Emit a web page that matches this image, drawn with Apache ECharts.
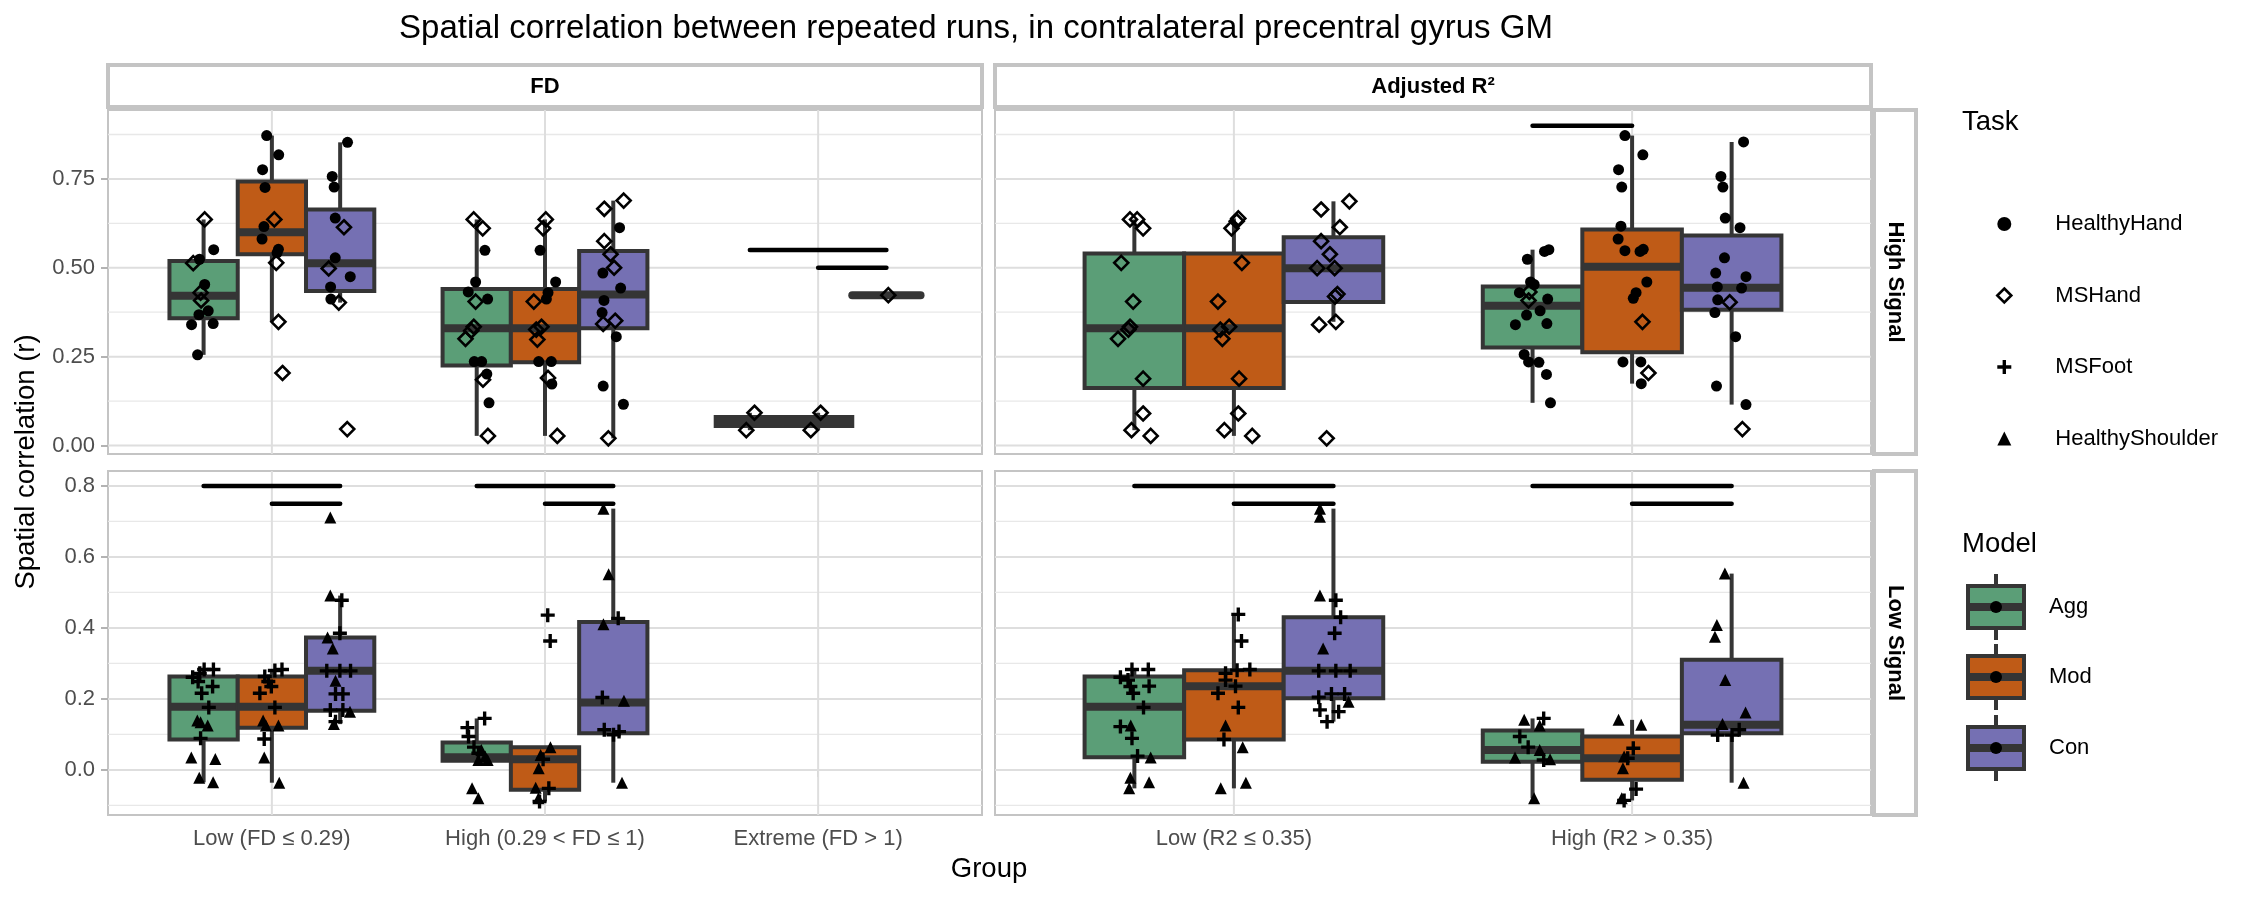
<!DOCTYPE html>
<html><head><meta charset="utf-8">
<script src="https://cdn.jsdelivr.net/npm/echarts@6/dist/echarts.min.js"></script>
<style>html,body{margin:0;padding:0;background:#fff}#c{width:2250px;height:900px}</style>
</head><body><div id="c"></div>
<script>
// ---------------- data ----------------
const models = ['Agg', 'Mod', 'Con'];
const tasks = ['HealthyHand', 'MSHand', 'MSFoot', 'HealthyShoulder'];
const fdGroups = ['Low (FD ≤ 0.29)', 'High (0.29 < FD ≤ 1)', 'Extreme (FD > 1)'];
const r2Groups = ['Low (R2 ≤ 0.35)', 'High (R2 > 0.35)'];
const topTicks = [0, 0.25, 0.5, 0.75];
const topMinor = [0.125, 0.375, 0.625, 0.875];
const botTicks = [0, 0.2, 0.4, 0.6, 0.8];
const botMinor = [-0.1, 0.1, 0.3, 0.5, 0.7];

// box stats: [group, model, lowerWhisker, q1, median, q3, upperWhisker]
const boxFDHigh = [
  [1,0,0.255,0.358,0.421,0.519,0.636],[1,1,0.348,0.538,0.600,0.743,0.872],[1,2,0.402,0.435,0.513,0.664,0.853],
  [2,0,0.027,0.225,0.330,0.440,0.636],[2,1,0.027,0.234,0.330,0.440,0.636],[2,2,0.020,0.330,0.425,0.547,0.689],
  [3,0,0.043,0.055,0.0675,0.080,0.092],[3,1,0.043,0.055,0.0675,0.080,0.092],[3,2,0.423,0.423,0.423,0.423,0.423]
];
const boxR2High = [
  [1,0,0.043,0.1615,0.330,0.540,0.636],[1,1,0.027,0.1615,0.330,0.540,0.639],[1,2,0.348,0.404,0.499,0.586,0.687],
  [2,0,0.120,0.276,0.393,0.447,0.551],[2,1,0.174,0.262,0.503,0.608,0.872],[2,2,0.115,0.382,0.444,0.591,0.854]
];
const boxFDLow = [
  [1,0,-0.035,0.086,0.178,0.263,0.283],[1,1,-0.036,0.119,0.178,0.263,0.283],[1,2,0.129,0.167,0.279,0.373,0.491],
  [2,0,0.025,0.026,0.036,0.077,0.145],[2,1,-0.089,-0.056,0.030,0.064,0.064],[2,2,-0.036,0.103,0.190,0.417,0.736]
];
const boxR2Low = [
  [1,0,-0.052,0.036,0.178,0.263,0.283],[1,1,-0.052,0.086,0.236,0.281,0.438],[1,2,0.136,0.202,0.279,0.430,0.736],
  [2,0,-0.080,0.023,0.056,0.111,0.145],[2,1,-0.086,-0.028,0.033,0.094,0.141],[2,2,-0.036,0.103,0.127,0.310,0.553]
];

// points: [group, model, task, jitter, value]
const ptsFDHigh = [
  [1,0,1,0.004,0.636],[1,0,0,0.037,0.551],[1,0,1,-0.038,0.513],[1,0,0,-0.015,0.524],[1,0,0,0.004,0.453],[1,0,1,-0.011,0.430],[1,0,1,-0.009,0.408],[1,0,0,0.017,0.379],[1,0,0,-0.017,0.368],[1,0,0,-0.044,0.340],[1,0,0,0.035,0.343],[1,0,0,-0.022,0.255],
  [1,1,0,-0.019,0.872],[1,1,0,0.025,0.818],[1,1,0,-0.034,0.776],[1,1,0,-0.025,0.726],[1,1,1,0.009,0.636],[1,1,0,-0.029,0.616],[1,1,0,-0.036,0.581],[1,1,0,0.024,0.552],[1,1,0,0.019,0.542],[1,1,1,0.016,0.514],[1,1,1,0.024,0.348],[1,1,1,0.039,0.204],
  [1,2,0,0.027,0.853],[1,2,0,-0.029,0.757],[1,2,0,-0.022,0.727],[1,2,0,-0.018,0.640],[1,2,1,0.014,0.614],[1,2,0,-0.018,0.528],[1,2,1,-0.042,0.498],[1,2,0,0.037,0.475],[1,2,0,-0.035,0.446],[1,2,0,-0.034,0.412],[1,2,1,-0.005,0.402],[1,2,1,0.026,0.046],
  [2,0,1,-0.011,0.636],[2,0,1,0.022,0.611],[2,0,0,0.030,0.549],[2,0,0,-0.004,0.460],[2,0,0,-0.031,0.432],[2,0,0,0.040,0.412],[2,0,1,-0.004,0.405],[2,0,1,-0.011,0.334],[2,0,1,-0.020,0.323],[2,0,1,-0.041,0.300],[2,0,0,-0.009,0.236],[2,0,0,0.018,0.236],[2,0,0,0.037,0.201],[2,0,1,0.023,0.185],[2,0,0,0.045,0.120],[2,0,1,0.041,0.027],
  [2,1,1,0.003,0.636],[2,1,1,-0.007,0.611],[2,1,0,-0.018,0.549],[2,1,0,0.039,0.460],[2,1,0,0.011,0.430],[2,1,0,0.005,0.412],[2,1,1,-0.041,0.405],[2,1,1,-0.013,0.334],[2,1,1,-0.032,0.326],[2,1,1,-0.028,0.298],[2,1,0,-0.023,0.236],[2,1,0,0.023,0.236],[2,1,1,0.011,0.190],[2,1,0,0.025,0.173],[2,1,1,0.045,0.027],
  [2,2,1,0.038,0.689],[2,2,1,-0.033,0.666],[2,2,0,0.023,0.613],[2,2,1,-0.033,0.575],[2,2,1,-0.010,0.538],[2,2,1,0.003,0.500],[2,2,0,-0.038,0.485],[2,2,0,0.027,0.443],[2,2,0,-0.034,0.408],[2,2,0,-0.041,0.374],[2,2,1,-0.037,0.342],[2,2,1,0.007,0.351],[2,2,0,0.011,0.306],[2,2,0,-0.037,0.167],[2,2,0,0.037,0.116],[2,2,1,-0.018,0.020],
  [3,0,1,0.017,0.092],[3,0,1,-0.013,0.043],[3,1,1,0.009,0.092],[3,1,1,-0.027,0.043],[3,2,1,0.007,0.423]
];
const ptsR2High = [
  [1,0,1,-0.011,0.636],[1,0,1,0.007,0.636],[1,0,1,0.022,0.611],[1,0,1,-0.033,0.514],[1,0,1,-0.003,0.405],[1,0,1,-0.011,0.334],[1,0,1,-0.015,0.326],[1,0,1,-0.041,0.300],[1,0,1,0.022,0.188],[1,0,1,0.022,0.090],[1,0,1,-0.007,0.043],[1,0,1,0.041,0.027],
  [1,1,1,0.011,0.639],[1,1,1,0.007,0.631],[1,1,1,-0.006,0.611],[1,1,1,0.020,0.514],[1,1,1,-0.040,0.405],[1,1,1,-0.012,0.334],[1,1,1,-0.034,0.326],[1,1,1,-0.029,0.300],[1,1,1,0.013,0.188],[1,1,1,0.011,0.090],[1,1,1,-0.024,0.043],[1,1,1,0.046,0.027],
  [1,2,1,0.040,0.687],[1,2,1,-0.031,0.664],[1,2,1,0.016,0.614],[1,2,1,-0.031,0.575],[1,2,1,-0.009,0.538],[1,2,1,-0.041,0.499],[1,2,1,0.003,0.499],[1,2,1,0.010,0.426],[1,2,1,0.004,0.419],[1,2,1,-0.036,0.340],[1,2,1,0.006,0.348],[1,2,1,-0.017,0.020],
  [2,0,0,0.041,0.551],[2,0,0,0.030,0.546],[2,0,0,-0.013,0.524],[2,0,0,-0.005,0.460],[2,0,0,0.004,0.453],[2,0,0,-0.033,0.430],[2,0,1,-0.008,0.432],[2,0,1,-0.010,0.408],[2,0,0,0.038,0.412],[2,0,0,0.019,0.379],[2,0,0,-0.015,0.367],[2,0,0,-0.043,0.340],[2,0,0,0.036,0.343],[2,0,0,-0.021,0.256],[2,0,0,-0.010,0.235],[2,0,0,0.016,0.234],[2,0,0,0.035,0.200],[2,0,0,0.045,0.120],
  [2,1,0,-0.018,0.872],[2,1,0,0.027,0.818],[2,1,0,-0.034,0.776],[2,1,0,-0.026,0.727],[2,1,0,-0.028,0.617],[2,1,0,-0.035,0.581],[2,1,0,-0.018,0.548],[2,1,0,0.020,0.546],[2,1,0,0.028,0.552],[2,1,0,0.037,0.460],[2,1,0,0.010,0.430],[2,1,0,0.003,0.414],[2,1,1,0.026,0.348],[2,1,0,-0.023,0.235],[2,1,0,0.022,0.235],[2,1,1,0.041,0.204],[2,1,0,0.023,0.174],
  [2,2,0,0.030,0.854],[2,2,0,-0.027,0.757],[2,2,0,-0.022,0.727],[2,2,0,-0.016,0.640],[2,2,0,0.021,0.613],[2,2,0,-0.018,0.528],[2,2,0,-0.040,0.485],[2,2,0,0.036,0.475],[2,2,0,-0.036,0.446],[2,2,0,0.025,0.443],[2,2,0,-0.035,0.410],[2,2,1,-0.005,0.403],[2,2,0,-0.042,0.374],[2,2,0,0.010,0.306],[2,2,0,-0.038,0.167],[2,2,0,0.036,0.115],[2,2,1,0.027,0.046]
];
const ptsFDLow = [
  [1,0,2,-0.040,0.261],[1,0,2,0.002,0.283],[1,0,2,0.036,0.283],[1,0,2,-0.014,0.272],[1,0,2,-0.020,0.249],[1,0,2,0.033,0.235],[1,0,2,-0.007,0.216],[1,0,2,0.019,0.176],[1,0,3,-0.023,0.139],[1,0,3,0.015,0.125],[1,0,3,-0.011,0.134],[1,0,2,-0.011,0.089],[1,0,3,-0.045,0.035],[1,0,3,0.043,0.031],[1,0,3,-0.016,-0.022],[1,0,3,0.035,-0.035],
  [1,1,2,0.037,0.283],[1,1,2,0.011,0.280],[1,1,2,-0.026,0.263],[1,1,2,-0.013,0.249],[1,1,2,-0.002,0.235],[1,1,2,-0.044,0.216],[1,1,2,0.011,0.176],[1,1,3,-0.032,0.139],[1,1,3,0.024,0.125],[1,1,3,-0.022,0.125],[1,1,2,-0.028,0.087],[1,1,3,-0.028,0.035],[1,1,3,0.027,-0.036],
  [1,2,3,-0.036,0.711],[1,2,3,-0.036,0.491],[1,2,2,0.006,0.478],[1,2,2,-0.001,0.385],[1,2,3,-0.046,0.373],[1,2,3,-0.027,0.342],[1,2,2,-0.049,0.279],[1,2,2,-0.001,0.279],[1,2,2,0.038,0.279],[1,2,3,-0.017,0.251],[1,2,2,0.010,0.214],[1,2,2,-0.017,0.214],[1,2,2,-0.036,0.169],[1,2,2,0.010,0.169],[1,2,3,0.036,0.164],[1,2,2,-0.017,0.136],[1,2,3,-0.023,0.129],
  [2,0,2,0.029,0.145],[2,0,2,-0.034,0.119],[2,0,2,-0.030,0.094],[2,0,2,-0.010,0.064],[2,0,2,0.006,0.047],[2,0,3,0.017,0.056],[2,0,3,0.031,0.038],[2,0,3,0.006,0.028],[2,0,3,0.040,0.028],[2,0,3,-0.017,-0.052],[2,0,3,0.006,-0.080],
  [2,1,3,0.020,0.064],[2,1,3,-0.016,0.042],[2,1,2,-0.007,0.030],[2,1,3,-0.023,0.005],[2,1,3,-0.034,-0.050],[2,1,2,0.014,-0.052],[2,1,3,-0.024,-0.080],[2,1,2,-0.020,-0.089],[2,1,2,0.010,0.436],[2,1,2,0.019,0.363],
  [2,2,3,-0.036,0.736],[2,2,3,-0.017,0.551],[2,2,2,0.018,0.427],[2,2,3,-0.036,0.410],[2,2,2,-0.040,0.204],[2,2,3,0.039,0.195],[2,2,2,-0.033,0.113],[2,2,2,0.021,0.108],[2,2,2,0.001,0.099],[2,2,3,0.032,-0.036]
];
const ptsR2Low = [
  [1,0,2,-0.035,0.261],[1,0,2,-0.006,0.283],[1,0,2,0.035,0.283],[1,0,2,-0.016,0.253],[1,0,2,-0.010,0.235],[1,0,2,0.037,0.236],[1,0,2,-0.003,0.216],[1,0,2,0.023,0.176],[1,0,2,-0.035,0.122],[1,0,3,-0.009,0.125],[1,0,2,-0.006,0.089],[1,0,2,0.008,0.039],[1,0,3,0.041,0.035],[1,0,3,-0.010,-0.022],[1,0,3,0.037,-0.035],[1,0,3,-0.013,-0.052],
  [1,1,2,0.011,0.438],[1,1,2,0.019,0.363],[1,1,2,0.040,0.283],[1,1,2,0.008,0.281],[1,1,2,-0.021,0.272],[1,1,2,-0.021,0.253],[1,1,2,0.004,0.236],[1,1,2,-0.040,0.216],[1,1,2,0.011,0.176],[1,1,3,-0.021,0.125],[1,1,2,-0.025,0.086],[1,1,3,0.022,0.064],[1,1,3,-0.033,-0.052],[1,1,3,0.030,-0.036],
  [1,2,3,-0.034,0.736],[1,2,3,-0.034,0.713],[1,2,3,-0.034,0.491],[1,2,2,0.006,0.478],[1,2,2,0.018,0.430],[1,2,2,0.003,0.385],[1,2,3,-0.026,0.342],[1,2,2,-0.037,0.279],[1,2,2,0.006,0.279],[1,2,2,0.042,0.279],[1,2,2,-0.037,0.205],[1,2,2,-0.005,0.214],[1,2,2,0.028,0.214],[1,2,3,0.038,0.192],[1,2,2,-0.034,0.169],[1,2,2,0.013,0.164],[1,2,2,-0.016,0.136],
  [2,0,3,-0.021,0.141],[2,0,2,0.028,0.145],[2,0,3,0.018,0.125],[2,0,2,-0.032,0.094],[2,0,2,-0.011,0.064],[2,0,3,0.018,0.056],[2,0,3,-0.044,0.035],[2,0,2,0.028,0.028],[2,0,3,0.044,0.030],[2,0,3,0.004,-0.080],
  [2,1,3,-0.034,0.141],[2,1,3,0.023,0.127],[2,1,2,0.003,0.061],[2,1,3,-0.020,0.038],[2,1,2,-0.011,0.033],[2,1,3,-0.023,0.005],[2,1,2,0.010,-0.054],[2,1,3,-0.026,-0.080],[2,1,2,-0.020,-0.086],
  [2,2,3,-0.017,0.553],[2,2,3,-0.037,0.408],[2,2,3,-0.042,0.375],[2,2,3,-0.016,0.253],[2,2,3,0.035,0.162],[2,2,3,-0.023,0.129],[2,2,2,-0.035,0.098],[2,2,2,0.001,0.098],[2,2,2,0.019,0.113],[2,2,3,0.030,-0.036]
];

// significance bars: [group, fromModel, toModel, value]
const sigFDHigh = [[3,0,2,0.55],[3,1,2,0.50]];
const sigR2High = [[2,0,1,0.90]];
const sigFDLow = [[1,0,2,0.80],[1,1,2,0.75],[2,0,2,0.80],[2,1,2,0.75]];
const sigR2Low = [[1,0,2,0.80],[1,1,2,0.75],[2,0,2,0.80],[2,1,2,0.75]];

// ---------------- styling / layout ----------------
const FONT = "'Liberation Sans', Arial, Helvetica, sans-serif";
const modelColors = ['#5B9E77', '#BF5B17', '#7570B3'];
const EDGE = '#353535';
const DODGE = 0.25;
const PLUS = 'path://M38,0H62V38H100V62H62V100H38V62H0V38H38Z';
const symbols = ['circle', 'diamond', PLUS, 'triangle'];
const symSizes = [11, 14, 14, 12];

const panels = [
  {grid:{left:108, top:110, width:874, height:344}, cats:fdGroups, ymin:-0.024, ymax:0.944, yt:topTicks, ym:topMinor, dec:2, showY:true, showX:false, boxes:boxFDHigh, pts:ptsFDHigh, sig:sigFDHigh},
  {grid:{left:995, top:110, width:876, height:344}, cats:r2Groups, ymin:-0.024, ymax:0.944, yt:topTicks, ym:topMinor, dec:2, showY:false, showX:false, boxes:boxR2High, pts:ptsR2High, sig:sigR2High},
  {grid:{left:108, top:471, width:874, height:344}, cats:fdGroups, ymin:-0.127, ymax:0.842, yt:botTicks, ym:botMinor, dec:1, showY:true, showX:true, boxes:boxFDLow, pts:ptsFDLow, sig:sigFDLow},
  {grid:{left:995, top:471, width:876, height:344}, cats:r2Groups, ymin:-0.127, ymax:0.842, yt:botTicks, ym:botMinor, dec:1, showY:false, showX:true, boxes:boxR2Low, pts:ptsR2Low, sig:sigR2Low}
];

const grids = [], xAxes = [], yAxes = [], series = [];
panels.forEach((p, i) => {
  const xmin = 0.4, xmax = p.cats.length + 0.6;
  const catVals = p.cats.map((c, k) => k + 1);
  grids.push(Object.assign({show:true, borderColor:'#c4c4c4', borderWidth:2, backgroundColor:'#fff', containLabel:false}, p.grid));
  xAxes.push({type:'value', gridIndex:i, min:xmin, max:xmax,
    axisLine:{show:false}, splitLine:{show:false},
    axisTick:{show:p.showX, customValues:catVals, length:7, lineStyle:{color:'#b3b3b3', width:2}},
    axisLabel:{show:p.showX, customValues:catVals, margin:13, fontSize:22, color:'#4d4d4d', fontFamily:FONT,
      formatter:v => p.cats[Math.round(v) - 1] || ''}});
  yAxes.push({type:'value', gridIndex:i, min:p.ymin, max:p.ymax,
    axisLine:{show:false}, splitLine:{show:false},
    axisTick:{show:p.showY, customValues:p.yt, length:7, lineStyle:{color:'#b3b3b3', width:2}},
    axisLabel:{show:p.showY, customValues:p.yt, margin:13, fontSize:22, color:'#4d4d4d', fontFamily:FONT,
      formatter:v => Number(v).toFixed(p.dec)}});
  // grid lines
  series.push({type:'custom', xAxisIndex:i, yAxisIndex:i, silent:true, z:1, data:[[1, 0]],
    encode:{x:0, y:1},
    renderItem:(params, api) => {
      const ch = [];
      p.ym.forEach(v => { const a = api.coord([xmin, v]), b = api.coord([xmax, v]);
        ch.push({type:'line', shape:{x1:a[0], y1:a[1], x2:b[0], y2:b[1]}, style:{stroke:'#e8e8e8', lineWidth:1.3}}); });
      p.yt.forEach(v => { const a = api.coord([xmin, v]), b = api.coord([xmax, v]);
        ch.push({type:'line', shape:{x1:a[0], y1:a[1], x2:b[0], y2:b[1]}, style:{stroke:'#dedede', lineWidth:2}}); });
      catVals.forEach(v => { const a = api.coord([v, p.ymin]), b = api.coord([v, p.ymax]);
        ch.push({type:'line', shape:{x1:a[0], y1:a[1], x2:b[0], y2:b[1]}, style:{stroke:'#dedede', lineWidth:2}}); });
      return {type:'group', children:ch};
    }});
  // boxes
  series.push({type:'custom', name:'box' + i, xAxisIndex:i, yAxisIndex:i, silent:true, z:2,
    data:p.boxes.map(b => [b[0] + (b[1] - 1) * DODGE, b[2], b[3], b[4], b[5], b[6], b[1]]),
    encode:{x:0, y:[1, 5]},
    renderItem:(params, api) => {
      const x = api.value(0), m = api.value(6);
      const w = api.size([DODGE, 0])[0];
      const pL = api.coord([x, api.value(1)]), p1 = api.coord([x, api.value(2)]), pM = api.coord([x, api.value(3)]),
            p3 = api.coord([x, api.value(4)]), pU = api.coord([x, api.value(5)]);
      const cx = pM[0];
      const flat = Math.abs(p1[1] - p3[1]) < 0.5;
      return {type:'group', children:[
        {type:'line', shape:{x1:cx, y1:p3[1], x2:cx, y2:pU[1]}, style:{stroke:EDGE, lineWidth:4}},
        {type:'line', shape:{x1:cx, y1:p1[1], x2:cx, y2:pL[1]}, style:{stroke:EDGE, lineWidth:4}},
        {type:'rect', shape:{x:cx - w / 2, y:p3[1], width:w, height:p1[1] - p3[1]},
          style:{fill:modelColors[m], stroke:EDGE, lineWidth:4, lineJoin:'miter'}},
        {type:'line', shape:{x1:cx - w / 2, y1:pM[1], x2:cx + w / 2, y2:pM[1]},
          style:{stroke:EDGE, lineWidth:8, lineCap: flat ? 'round' : 'butt'}}
      ]};
    }});
  // points per task
  tasks.forEach((t, ti) => {
    const d = p.pts.filter(q => q[2] === ti).map(q => [q[0] + (q[1] - 1) * DODGE + q[3], q[4]]);
    if (!d.length) return;
    series.push({type:'scatter', name:t, xAxisIndex:i, yAxisIndex:i, z:3, silent:true,
      symbol:symbols[ti], symbolSize:symSizes[ti], data:d,
      itemStyle: ti === 1 ? {color:'rgba(0,0,0,0)', borderColor:'#000', borderWidth:2.6, opacity:1} : {color:'#000', opacity:1}});
  });
  // significance bars
  series.push({type:'custom', xAxisIndex:i, yAxisIndex:i, silent:true, z:4,
    data:p.sig.map(s => [s[0] + (s[1] - 1) * DODGE, s[0] + (s[2] - 1) * DODGE, s[3]]),
    encode:{x:[0, 1], y:2},
    renderItem:(params, api) => {
      const a = api.coord([api.value(0), api.value(2)]), b = api.coord([api.value(1), api.value(2)]);
      return {type:'line', shape:{x1:a[0], y1:a[1], x2:b[0], y2:b[1]}, style:{stroke:'#000', lineWidth:4.5, lineCap:'round'}};
    }});
});

// ---------------- decorations ----------------
const txt = (text, x, y, o) => Object.assign({type:'text', x, y, silent:true,
  style:Object.assign({text, fontFamily:FONT, fill:'#000', align:'center', verticalAlign:'middle'}, o && o.style || {})},
  o && o.rotation !== undefined ? {rotation:o.rotation} : {});
const strip = (x, y, w, h) => ({type:'rect', silent:true, shape:{x, y, width:w, height:h},
  style:{fill:'#fff', stroke:'#c4c4c4', lineWidth:4}});

const graphic = [
  strip(108, 65, 874, 42), strip(995, 65, 876, 42),
  strip(1874, 110, 42, 344), strip(1874, 471, 42, 344),
  txt('FD', 545, 86.5, {style:{fontSize:22, fontWeight:'bold'}}),
  txt('Adjusted R²', 1433, 86.5, {style:{fontSize:22, fontWeight:'bold'}}),
  txt('High Signal', 1895, 282, {rotation:-Math.PI / 2, style:{fontSize:22, fontWeight:'bold'}}),
  txt('Low Signal', 1895, 643, {rotation:-Math.PI / 2, style:{fontSize:22, fontWeight:'bold'}}),
  txt('Spatial correlation between repeated runs, in contralateral precentral gyrus GM', 976, 29, {style:{fontSize:33}}),
  txt('Spatial correlation (r)', 26, 462, {rotation:Math.PI / 2, style:{fontSize:27.5}}),
  txt('Group', 989, 869, {style:{fontSize:27.5}}),
  txt('Task', 1962, 122, {style:{fontSize:27.5, align:'left'}}),
  txt('Model', 1962, 544, {style:{fontSize:27.5, align:'left'}})
];
const keyY = [607, 677, 748];
models.forEach((m, k) => {
  const cy = keyY[k], cx = 1996;
  graphic.push(
    {type:'line', silent:true, shape:{x1:cx, y1:cy - 33, x2:cx, y2:cy + 33}, style:{stroke:EDGE, lineWidth:4}},
    {type:'rect', silent:true, shape:{x:cx - 28, y:cy - 21, width:56, height:42}, style:{fill:modelColors[k], stroke:EDGE, lineWidth:4}},
    {type:'line', silent:true, shape:{x1:cx - 28, y1:cy, x2:cx + 28, y2:cy}, style:{stroke:EDGE, lineWidth:8}},
    {type:'circle', silent:true, shape:{cx, cy, r:6}, style:{fill:'#000'}},
    txt(m, 2049, cy, {style:{fontSize:22, align:'left'}})
  );
});

const option = {
  animation:false,
  backgroundColor:'#fff',
  textStyle:{fontFamily:FONT},
  grid:grids, xAxis:xAxes, yAxis:yAxes, series,
  legend:{orient:'vertical', left:1991, top:206, itemWidth:14, itemHeight:14, itemGap:45.5, selectedMode:false,
    symbolKeepAspect:true,
    textStyle:{fontSize:22, color:'#000', fontFamily:FONT, lineHeight:26, padding:[0, 0, 0, 39]},
    data:[
      {name:'HealthyHand', icon:'circle', itemStyle:{color:'#000'}},
      {name:'MSHand', icon:'diamond', itemStyle:{color:'rgba(0,0,0,0)', borderColor:'#000', borderWidth:2.6}},
      {name:'MSFoot', icon:PLUS, itemStyle:{color:'#000'}},
      {name:'HealthyShoulder', icon:'triangle', itemStyle:{color:'#000'}}
    ]},
  graphic
};
const chart = echarts.init(document.getElementById('c'), null, {renderer:'canvas'});
chart.setOption(option);
</script></body></html>
